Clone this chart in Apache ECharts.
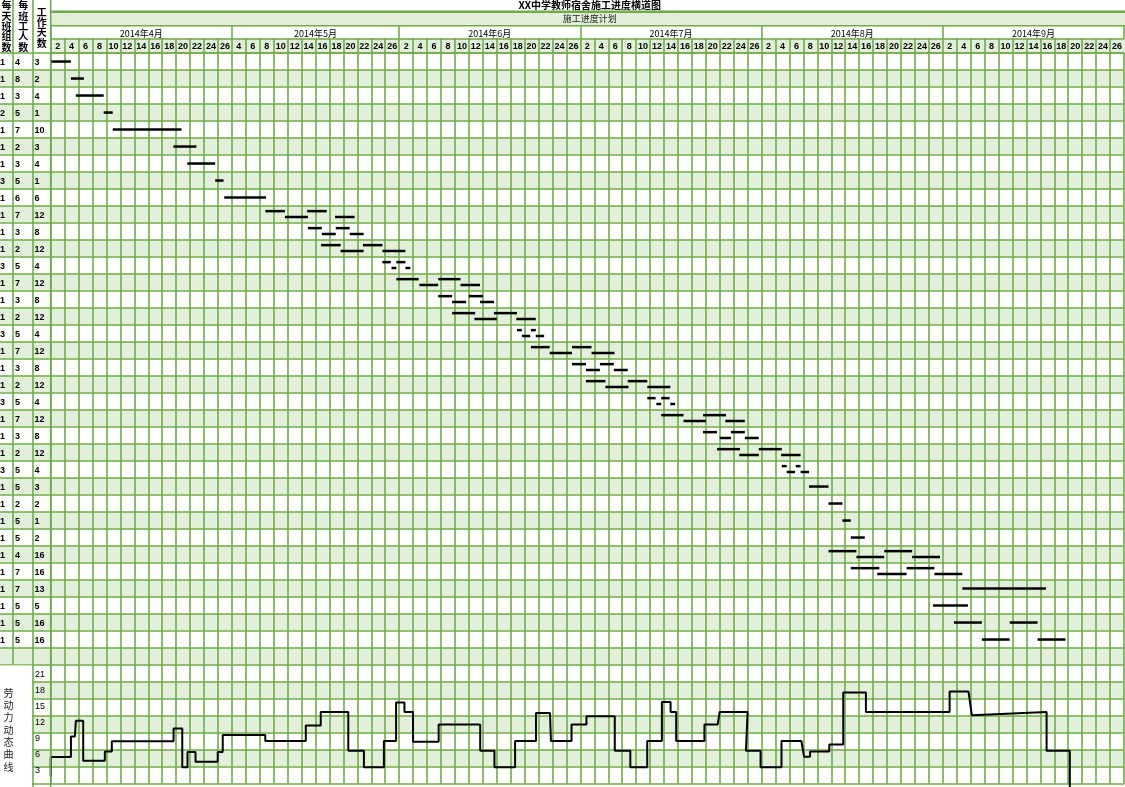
<!DOCTYPE html>
<html><head><meta charset="utf-8">
<script src="https://cdn.jsdelivr.net/npm/echarts@6/dist/echarts.min.js"></script>
<style>html,body{margin:0;padding:0;background:#fff}#c{width:1125px;height:787px}</style>
</head><body><div id="c"></div>
<script>
// ---------------- data ----------------
const chartTitle = 'XX中学教师宿舍施工进度横道图';
const planTitle = '施工进度计划';
const headTeams = '每天班组数';
const headWorkers = '每班工人数';
const headDays = '工作天数';
const laborTitle = '劳动力动态曲线';
const months = ['2014年4月','2014年5月','2014年6月','2014年7月','2014年8月','2014年9月'];
const dayLabelsApr = ['2','4','6','8','10','12','14','16','18','20','22','24','26'];
const dayLabelsMay = ['4','6','8','10','12','14','16','18','20','22','24','26'];
const dayLabelsJun = ['2','4','6','8','10','12','14','16','18','20','22','24','26'];
const dayLabelsJul = ['2','4','6','8','10','12','14','16','18','20','22','24','26'];
const dayLabelsAug = ['2','4','6','8','10','12','14','16','18','20','22','24','26'];
const dayLabelsSep = ['2','4','6','8','10','12','14','16','18','20','22','24','26'];
const teamsPerDay   = [1,1,1,2,1,1,1,3,1,1,1,1,3,1,1,1,3,1,1,1,3,1,1,1,3,1,1,1,1,1,1,1,1,1,1];
const workersPerTeam= [4,8,3,5,7,2,3,5,6,7,3,2,5,7,3,2,5,7,3,2,5,7,3,2,5,5,2,5,5,4,7,7,5,5,5];
const workDays      = [3,2,4,1,10,3,4,1,6,12,8,12,4,12,8,12,4,12,8,12,4,12,8,12,4,3,2,1,2,16,16,13,5,16,16];
// bar segments per task: [startDay, endDay] (day 0 = left edge of the first column)
const taskBars = [
 [[0,2.9]],
 [[2.9,4.76]],
 [[3.6,7.6]],
 [[7.6,8.9]],
 [[8.9,18.76]],
 [[17.6,20.9]],
 [[19.6,23.6]],
 [[23.6,24.8]],
 [[24.9,30.9]],
 [[30.8,33.6],[33.6,36.9],[36.8,39.6],[40.8,43.6]],
 [[36.9,38.9],[38.9,40.9],[40.9,42.9],[42.9,44.9]],
 [[38.8,41.6],[41.6,44.9],[44.8,47.6],[47.6,50.9]],
 [[47.6,48.8],[48.9,49.6],[49.6,50.9],[50.9,51.6]],
 [[49.6,52.8],[52.9,55.6],[55.6,58.8],[58.8,61.6]],
 [[55.6,57.6],[57.6,59.6],[60.0,62.0],[61.6,63.6]],
 [[57.6,60.9],[60.8,64.0],[63.6,66.9],[66.8,69.6]],
 [[66.9,67.6],[67.6,68.8],[68.9,69.6],[69.6,70.8]],
 [[68.9,71.6],[71.6,74.8],[74.8,77.6],[77.6,80.9]],
 [[74.8,76.8],[76.8,78.8],[78.8,80.8],[80.8,82.8]],
 [[76.8,79.6],[79.6,82.9],[82.8,85.6],[85.6,88.9]],
 [[85.6,86.8],[86.9,87.6],[87.6,88.8],[88.9,89.6]],
 [[87.6,90.8],[90.8,94.0],[93.6,96.9],[96.8,99.6]],
 [[93.6,95.6],[96.0,97.6],[97.6,99.6],[99.6,101.6]],
 [[95.6,98.9],[98.8,101.6],[101.6,104.9],[104.8,107.6]],
 [[104.9,105.6],[105.6,106.8],[106.9,107.6],[107.6,108.8]],
 [[108.8,111.6]],
 [[111.6,113.6]],
 [[113.6,114.8]],
 [[114.8,116.8]],
 [[111.6,115.6],[115.6,119.6],[119.6,123.6],[123.6,127.6]],
 [[114.8,118.9],[118.6,122.8],[122.8,126.8],[126.8,130.8]],
 [[130.8,142.8]],
 [[126.6,131.6]],
 [[129.6,133.6],[137.6,141.6]],
 [[133.6,137.6],[141.6,145.6]]
];
// labor curve vertices [day, workers]
const laborCurve = [
 [0,1.94],[0,5.59],[2.9,5.59],[2.9,9.42],[3.47,9.42],[3.61,12.35],[4.66,12.35],[4.66,4.89],
 [7.76,4.89],[7.76,6.65],[8.76,6.65],[8.76,8.54],[17.61,8.54],[17.61,10.94],[18.86,10.94],[18.86,3.71],
 [19.61,3.71],[19.61,6.53],[20.76,6.53],[20.76,4.71],[23.94,4.71],[23.94,6.53],[24.66,6.53],[24.66,9.71],
 [30.76,9.71],[30.76,8.59],[36.57,8.59],[36.57,11.47],[38.71,11.47],[38.71,14.01],[42.66,14.01],[42.66,6.78],
 [44.9,6.78],[44.9,3.71],[47.76,3.71],[47.76,8.59],[49.51,8.59],[49.51,15.78],[50.71,15.78],[50.71,14.01],
 [51.94,14.01],[51.94,8.47],[55.61,8.47],[55.61,11.65],[61.57,11.65],[61.57,6.78],[63.61,6.78],[63.61,3.71],
 [66.57,3.71],[66.57,8.59],[69.57,8.59],[69.57,13.83],[71.57,13.83],[71.71,8.59],[74.66,8.59],[74.66,11.65],
 [76.8,11.65],[76.8,13.23],[80.86,13.23],[80.86,6.78],[83.09,6.78],[83.09,3.71],[85.51,3.71],[85.51,8.59],
 [87.61,8.59],[87.61,15.88],[88.86,15.88],[88.86,14.01],[89.66,14.01],[89.66,8.59],[93.71,8.59],[93.71,11.65],
 [95.61,11.65],[95.9,14.01],[99.9,14.01],[99.66,6.78],[101.76,6.78],[101.76,3.71],[104.76,3.71],[104.76,8.59],
 [107.61,8.59],[108.0,5.65],[108.86,5.65],[108.86,6.65],[111.61,6.65],[111.61,7.94],[113.61,7.94],[113.61,17.65],
 [116.86,17.65],[116.86,14.01],[128.86,14.01],[128.86,17.82],[131.57,17.82],[132.04,13.41],[142.76,14.01],[142.76,6.78],
 [146.09,6.78],[146.09,0]
];
const laborTicks = [3,6,9,12,15,18,21];

// ---------------- layout ----------------
const monthDayLabels = [dayLabelsApr,dayLabelsMay,dayLabelsJun,dayLabelsJul,dayLabelsAug,dayLabelsSep];
const dayLabels = monthDayLabels.flat();
const COLS = dayLabels.length;          // two days per column
const DAYS = COLS * 2;
const monthEdges = []; let acc = 0;
monthDayLabels.forEach(m => { monthEdges.push(acc * 2); acc += m.length; });
monthEdges.push(acc * 2);
const monthCenters = months.map((m,i) => (monthEdges[i] + monthEdges[i+1]) / 2);

const X0 = 50.7, PXD = 7, TOP = 52.7, ROW_H = 17, ROWS = 43;
const W = DAYS * PXD;
const GREEN = '#6fac46', SHADE = '#e2efda', LW = 1.6;
const NUMFONT = '"Liberation Sans", Arial, sans-serif';
const CJK = '"Noto Sans CJK SC", sans-serif';

const barData = [];
taskBars.forEach((segs, i) => {
  segs.forEach((s, j) => {
    const off = segs.length === 4 ? (j % 2 === 0 ? 0.32 : 0.665) : 0.52;
    barData.push([s[0], s[1], i + off]);
  });
});
const leftData = teamsPerDay.map((g, i) => [i, g, workersPerTeam[i], workDays[i]]);
const leftX = [0, 15, 34.5];

const rowYAxis = (gi) => ({
  gridIndex: gi, type: 'value', min: 0, max: ROWS, interval: 1, inverse: true,
  axisLine: {show: false}, axisTick: {show: false}, axisLabel: {show: false},
  splitLine: {show: true, lineStyle: {color: GREEN, width: LW}},
  splitArea: {show: true, areaStyle: {color: ['#ffffff', SHADE]}}
});

const vtext = (txt, x, yTop, lh, font, fill) => ({
  type: 'text', x: x, y: yTop, z: 100,
  style: {text: txt.split('').join('\n'), font: font, fill: fill, align: 'center', verticalAlign: 'top', lineHeight: lh}
});

const option = {
  animation: false,
  backgroundColor: '#fff',
  grid: [
    {left: X0, top: TOP, width: W, height: ROWS * ROW_H},
    {left: X0, top: 674.5, width: W, height: 119},
    {left: 0, top: TOP, width: X0, height: ROWS * ROW_H}
  ],
  xAxis: [
    {gridIndex: 0, type: 'value', min: 0, max: DAYS, interval: 2, position: 'bottom',
     axisLine: {show: false}, axisTick: {show: false}, axisLabel: {show: false},
     splitLine: {show: true, lineStyle: {color: GREEN, width: LW}}},
    {gridIndex: 0, type: 'category', data: dayLabels, position: 'top', boundaryGap: true,
     axisLine: {show: true, lineStyle: {color: GREEN, width: LW}},
     axisTick: {show: true, interval: 0, length: 14.4, lineStyle: {color: GREEN, width: LW}},
     axisLabel: {interval: 0, margin: 1, fontSize: 9, fontWeight: 'bold', lineHeight: 10, color: '#000', fontFamily: NUMFONT},
     splitLine: {show: false}},
    {gridIndex: 0, type: 'value', min: 0, max: DAYS, position: 'top', offset: 14.4,
     axisLine: {show: true, lineStyle: {color: GREEN, width: LW}},
     axisTick: {show: true, customValues: monthEdges, length: 12.6, lineStyle: {color: GREEN, width: LW}},
     axisLabel: {customValues: monthCenters, margin: 0, fontSize: 9, lineHeight: 10, color: '#000', fontFamily: CJK,
       formatter: (v) => { const k = monthCenters.indexOf(v); return k >= 0 ? months[k] : ''; }},
     splitLine: {show: false}},
    {gridIndex: 1, type: 'value', min: 0, max: DAYS, show: false},
    {gridIndex: 2, type: 'value', min: 0, max: X0, show: false}
  ],
  yAxis: [
    rowYAxis(0),
    {gridIndex: 1, type: 'value', min: 0, max: 21, interval: 3,
     axisLine: {show: false}, axisTick: {show: false}, splitLine: {show: false},
     axisLabel: {align: 'left', margin: 15.7, fontSize: 9, color: '#000', fontFamily: NUMFONT,
       formatter: (v) => laborTicks.indexOf(v) >= 0 ? String(v) : ''}},
    rowYAxis(2)
  ],
  series: [
    {type: 'custom', xAxisIndex: 0, yAxisIndex: 0, data: barData, encode: {x: [0, 1], y: 2}, z: 5,
     renderItem: (params, api) => {
       const p1 = api.coord([api.value(0), api.value(2)]);
       const p2 = api.coord([api.value(1), api.value(2)]);
       return {type: 'line', shape: {x1: p1[0], y1: p1[1], x2: p2[0], y2: p2[1]},
               style: {stroke: '#000', lineWidth: 2.5}};
     }},
    {type: 'line', xAxisIndex: 3, yAxisIndex: 1, data: laborCurve.map(p => [p[0], p[1]]), showSymbol: false, symbol: 'none',
     lineStyle: {color: '#000', width: 2}, clip: false, z: 6},
    {type: 'custom', xAxisIndex: 4, yAxisIndex: 2, data: leftData, encode: {y: 0}, z: 5,
     renderItem: (params, api) => {
       const r = api.value(0);
       const children = [1, 2, 3].map((k, j) => {
         const p = api.coord([leftX[j], r + 0.55]);
         return {type: 'text', style: {text: String(api.value(k)), x: p[0], y: p[1], align: 'left', verticalAlign: 'middle',
                 font: 'bold 9px ' + NUMFONT, fill: '#000'}};
       });
       return {type: 'group', children: children};
     }}
  ],
  graphic: [
    {type: 'rect', z: -1, shape: {x: X0, y: 12, width: 1125 - X0, height: 13.7}, style: {fill: SHADE}},
    {type: 'rect', z: -1, shape: {x: X0, y: 38.3, width: 1125 - X0, height: 14.4}, style: {fill: SHADE}},
    {type: 'line', z: 50, shape: {x1: X0, y1: 11.7, x2: 1125, y2: 11.7}, style: {stroke: GREEN, lineWidth: 2.6}},
    {type: 'line', z: 50, shape: {x1: X0, y1: 25.7, x2: 1125, y2: 25.7}, style: {stroke: GREEN, lineWidth: LW}},
    {type: 'rect', z: 60, shape: {x: 0, y: 665.6, width: 32.2, height: 125}, style: {fill: '#fff'}},
    {type: 'line', z: 70, shape: {x1: 13, y1: 0, x2: 13, y2: 664.7}, style: {stroke: GREEN, lineWidth: LW}},
    {type: 'line', z: 70, shape: {x1: 33, y1: 0, x2: 33, y2: 787}, style: {stroke: GREEN, lineWidth: LW}},
    {type: 'line', z: 70, shape: {x1: X0, y1: 0, x2: X0, y2: 787}, style: {stroke: GREEN, lineWidth: LW}},
    {type: 'text', z: 100, x: X0 + W / 2, y: 5.5,
     style: {text: chartTitle, font: 'bold 10px ' + CJK, fill: '#000', align: 'center', verticalAlign: 'middle'}},
    {type: 'text', z: 100, x: X0 + W / 2, y: 19,
     style: {text: planTitle, font: '9px ' + CJK, fill: '#222', align: 'center', verticalAlign: 'middle'}},
    vtext(headTeams, 6.5, 0.3, 10.4, 'bold 10px ' + CJK, '#000'),
    vtext(headWorkers, 23.3, 0.3, 10.4, 'bold 10px ' + CJK, '#000'),
    vtext(headDays, 41.7, 6.9, 10.3, 'bold 10px ' + CJK, '#000'),
    vtext(laborTitle, 8.5, 686.9, 12.3, '10px ' + CJK, '#222')
  ]
};
const chart = echarts.init(document.getElementById('c'), null, {renderer: 'canvas', width: 1125, height: 787});
chart.setOption(option);
</script></body></html>
